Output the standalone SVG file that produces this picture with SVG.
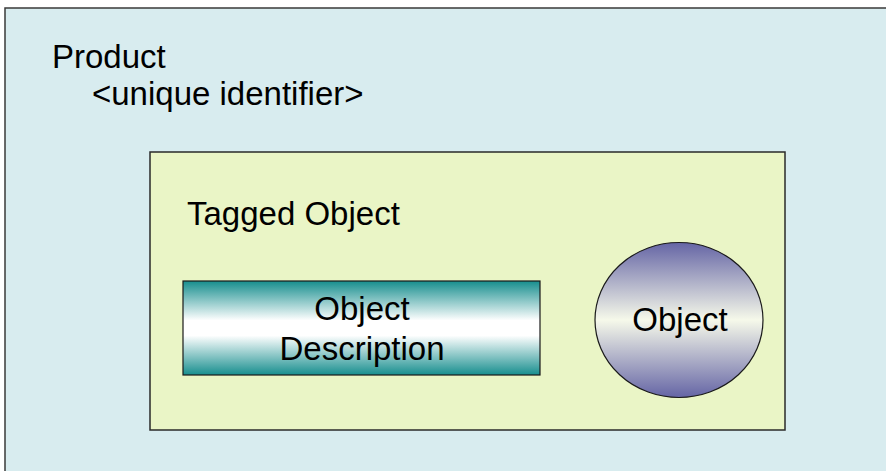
<svg xmlns="http://www.w3.org/2000/svg" width="886" height="471" viewBox="0 0 886 471">
<defs>
<linearGradient id="tealGrad" x1="0" y1="0" x2="0" y2="1">
<stop offset="0" stop-color="#178e8e"/>
<stop offset="0.42" stop-color="#ffffff"/>
<stop offset="0.58" stop-color="#ffffff"/>
<stop offset="1" stop-color="#178e8e"/>
</linearGradient>
<linearGradient id="purpleGrad" x1="0" y1="0" x2="0" y2="1">
<stop offset="0" stop-color="#6565a5"/>
<stop offset="0.5" stop-color="#f6f9ea"/>
<stop offset="1" stop-color="#6565a5"/>
</linearGradient>
</defs>
<style>
text { font-family: "Liberation Sans", Arial, sans-serif; font-size: 33px; fill: #000; }
.mid { text-anchor: middle; }
</style>
<rect width="886" height="471" fill="#ffffff"/>
<g id="product">
<rect x="5" y="8" width="886" height="470" fill="#d8ecef" stroke="#3a3a3a" stroke-width="1.5"/>
<text x="52" y="68">Product</text>
<text x="92" y="105">&lt;unique identifier&gt;</text>
</g>
<g id="tagged-object">
<rect x="150" y="152" width="635" height="278" fill="#eaf5c6" stroke="#2a2a2a" stroke-width="1.5"/>
<text x="187" y="225">Tagged Object</text>
</g>
<g id="object-description">
<rect x="183" y="281" width="357" height="94" fill="url(#tealGrad)" stroke="#1a1a1a" stroke-width="1.2"/>
<text class="mid" x="362" y="320">Object</text>
<text class="mid" x="362" y="360">Description</text>
</g>
<g id="object">
<ellipse cx="679" cy="320" rx="84" ry="77.5" fill="url(#purpleGrad)" stroke="#1a1a1a" stroke-width="1.2"/>
<text class="mid" x="680" y="331">Object</text>
</g>
<g id="connectors"></g>
</svg>
